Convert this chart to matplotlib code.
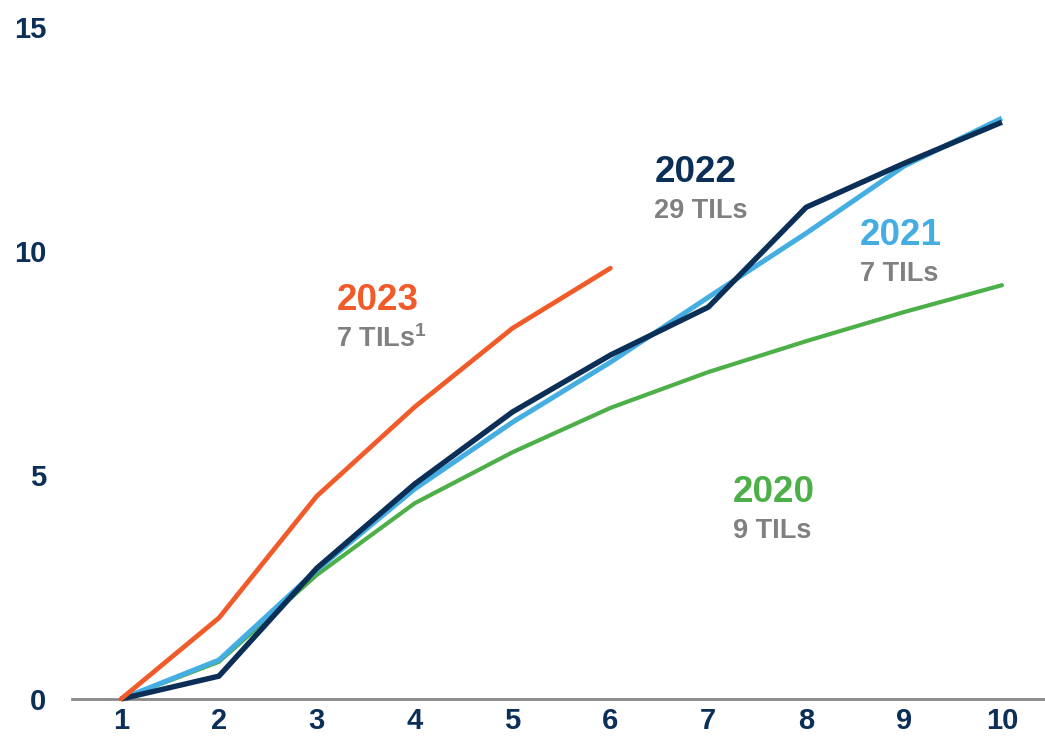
import matplotlib
matplotlib.use('Agg')
import matplotlib.pyplot as plt

plt.rcParams['font.family'] = ['Liberation Sans', 'DejaVu Sans']

navy = '#0c2f57'
orange = '#f15a29'
lightblue = '#44aee3'
green = '#4caf48'
grey = '#808080'

months = [1, 2, 3, 4, 5, 6, 7, 8, 9, 10]
y2020 = [0.0, 0.83, 2.77, 4.37, 5.51, 6.50, 7.30, 7.99, 8.64, 9.24]
y2021 = [0.0, 0.87, 2.88, 4.69, 6.18, 7.52, 8.97, 10.40, 11.90, 12.97]
y2022 = [0.0, 0.51, 2.92, 4.80, 6.41, 7.68, 8.75, 10.98, 11.96, 12.88]
y2023 = [0.0, 1.81, 4.53, 6.52, 8.28, 9.62]

yticks = [0, 5, 10, 15]

fig = plt.figure(figsize=(10.45, 7.36), dpi=100)
ax = fig.add_axes([0.069, 0.0503, 0.931, 0.9127])

ax.plot(months, y2020, color=green, linewidth=3.0, solid_capstyle='round', zorder=2, clip_on=False)
ax.plot(months, y2021, color=lightblue, linewidth=3.6, solid_capstyle='butt', zorder=3, clip_on=False)
ax.plot(months, y2022, color=navy, linewidth=3.9, solid_capstyle='butt', zorder=4, clip_on=False)
ax.plot(months[:len(y2023)], y2023, color=orange, linewidth=3.4, solid_capstyle='round', zorder=5, clip_on=False)

# series labels
labels = [
    (3.2, 8.9, '2023', orange, '7 TILs$^{\\mathregular{1}}$'),
    (6.45, 11.75, '2022', navy, '29 TILs'),
    (8.55, 10.35, '2021', lightblue, '7 TILs'),
    (7.25, 4.6, '2020', green, '9 TILs'),
]
for x, y, year, c, sub in labels:
    ax.text(x, y, year, color=c, fontsize=26.5, fontweight='bold', ha='left', va='center')
    ax.text(x, y - 0.86, sub, color=grey, fontsize=19.5, fontweight='bold', ha='left', va='center')

ax.set_xlim(0.5, 10.44)
ax.set_ylim(0, 15)
ax.set_xticks(months)
ax.set_yticks(yticks)
ax.tick_params(axis='both', length=0, labelsize=21, labelcolor=navy)
ax.tick_params(axis='x', pad=5.5)
ax.tick_params(axis='y', pad=18.5)
for lbl in ax.get_xticklabels() + ax.get_yticklabels():
    lbl.set_fontweight('bold')

for s in ['top', 'right', 'left']:
    ax.spines[s].set_visible(False)
ax.spines['bottom'].set_color('#888888')
ax.spines['bottom'].set_linewidth(2)

fig.savefig('out.png', dpi=100)
